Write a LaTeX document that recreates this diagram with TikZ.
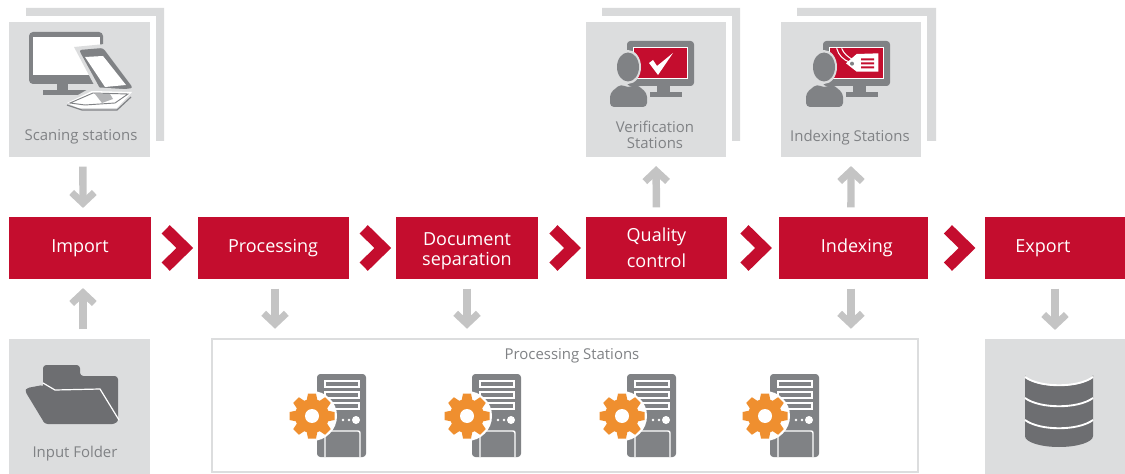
\documentclass[tikz,border=0pt]{standalone}
\usepackage{fontspec}
\setmainfont{Open Sans}
\usetikzlibrary{arrows.meta,calc}
\definecolor{kred}{HTML}{C40D2E}
\definecolor{kbox}{HTML}{DCDDDE}
\definecolor{kback}{HTML}{D9DADB}
\definecolor{karrow}{HTML}{C4C4C4}
\definecolor{kicon}{HTML}{808285}
\definecolor{kdark}{HTML}{6D6E71}
\definecolor{ktext}{HTML}{808285}
\definecolor{korange}{HTML}{EF8F2F}
\tikzset{
  wh/.style 2 args={minimum width=#1*0.75pt,minimum height=#2*0.75pt},
  redbox/.style={fill=kred,inner sep=0pt,text=white,align=center,font=\fontsize{13.5pt}{15.5pt}\selectfont},
  graybox/.style={fill=kbox,inner sep=0pt},
  framebox/.style={draw=kbox,line width=2.2pt,fill=white,inner sep=0pt},
  caplabel/.style={text=ktext,inner sep=0pt,align=center,font=\fontsize{11.2pt}{12pt}\selectfont},
  garrow/.style={draw=karrow,line width=5.6pt,shorten >=6.6pt,shorten <=7pt,
     -{Straight Barb[length=8pt,width=17pt,line width=5.2pt]}},
  chevron/.style={draw=kred,line width=8.8pt,miter limit=10},
}
% chevron centred between two nodes
\newcommand{\kchev}[2]{\path ($(#1.east)!0.5!(#2.west)$) coordinate (cc);
  \draw[chevron] ([shift={(-6.4pt,-14pt)}]cc) -- ([shift={(7.9pt,0pt)}]cc) -- ([shift={(-6.4pt,14pt)}]cc);}
\newcommand{\kback}[3]{\fill[kback] (#1,8) -- (#2,8) -- (#2,141) -- (#3,141) -- (#3,16) -- (#1,16) -- cycle;}
\newcommand{\kserver}[2]{\begin{scope}[shift={(#1,#2)}]
  \fill[kicon,rounded corners=2.5pt] (5,-42) rectangle (54,41);
  \foreach \yy in {-35,-24,-13}{\draw[white,line width=0.9pt] (13,\yy) rectangle (47,\yy+6);}
  \fill[white] (31,4) circle[radius=1.4] (37,4) circle[radius=1.4] (44,4) circle[radius=4];
  \draw[white,line width=1.1pt,rounded corners=1.5pt] (13,41) -- (13,15) -- (48,15) -- (48,41);
  \fill[white] (0,0) circle[radius=25];
  \foreach \a in {0,45,...,315}{\fill[korange,rotate=\a] (-5.5,-15) -- (-4,-22.5) -- (4,-22.5) -- (5.5,-15) -- cycle;}
  \fill[korange] (0,0) circle[radius=17];
  \fill[white] (0,0) circle[radius=7];
\end{scope}}
\newcommand{\kperson}{
  \fill[kbox] (18,0) ellipse[x radius=13,y radius=17];
  \fill[kbox] (-2,42) -- (-2,20) -- (40,20) -- (40,42) -- cycle;
  \fill[kicon] (18,0) ellipse[x radius=11,y radius=14.5];
  \fill[kicon,rounded corners=3pt] (0,40) -- (0,26) -- (11,17) -- (18,21) -- (26,17) -- (37,26) -- (37,40) -- cycle;
}
\newcommand{\kmonitor}{
  \fill[kicon,rounded corners=2.5pt] (627,41) rectangle (694,86);
  \fill[kicon] (657,86) rectangle (670,92);
  \fill[kicon] (650,92) rectangle (682,97);
  \fill[white] (633,47) rectangle (688,79);
  \fill[kred] (634,48) rectangle (687,78);
}
\begin{document}
\begin{tikzpicture}[x=0.75pt,y=-0.75pt]
\useasboundingbox (0,0) rectangle (1125,474);

% back sheets
\kback{26}{164}{156}
\kback{602}{740}{732}
\kback{797}{936}{927}

% stations
\node[graybox,wh={141}{135}] (scan) at (79.5,89.5) {};
\node[graybox,wh={140}{135}] (verif) at (656,89.5) {};
\node[graybox,wh={140}{135}] (ixst) at (851,89.5) {};
\node[graybox,wh={141}{135}] (input) at (79.5,406.5) {};
\node[graybox,wh={140}{135}] (db) at (1055,406.5) {};
\node[framebox,wh={706}{133}] (pst) at (565,405.5) {};

% process row
\node[redbox,wh={142}{62}] (import) at (80,248) {Import};
\node[redbox,wh={151}{62}] (proc) at (273,248) {Processing};
\node[redbox,wh={142}{62}] (docsep) at (467,248) {\rule{0pt}{14.5pt}Document\\[-1pt]separation};
\node[redbox,wh={141}{62}] (qc) at (656.5,248) {Quality\\[4pt]control};
\node[redbox,wh={149}{62}] (index) at (853.5,248) {\hspace{5pt}Indexing};
\node[redbox,wh={140}{62}] (export) at (1055,248) {Export\hspace{18pt}};

% labels
\node[caplabel] (l1) at (81,136.5) {Scaning stations};
\node[caplabel] (l2) at (655,134.5) {Verification\\Stations};
\node[caplabel] (l3) at (850,137.5) {Indexing Stations};
\node[caplabel] (l4) at (75,453.5) {Input Folder};
\node[caplabel] (l5) at (572,355.5) {Processing Stations};

% chevrons
\kchev{import}{proc}
\kchev{proc}{docsep}
\kchev{docsep}{qc}
\kchev{qc}{index}
\kchev{index}{export}

% grey arrows
\draw[garrow] ([xshift=2.6pt]scan.south) -- ([xshift=2.25pt]import.north);
\draw[garrow] ([xshift=2.25pt]import.south |- input.north) -- ([xshift=2.25pt]import.south);
\draw[garrow] ([xshift=1.5pt]proc.south) -- ([xshift=1.5pt]proc.south |- pst.north);
\draw[garrow] (docsep.south) -- (docsep.south |- pst.north);
\draw[garrow] ([xshift=-1.9pt]index.south) -- ([xshift=-1.9pt]index.south |- pst.north);
\draw[garrow] (export.south) -- (db.north);
\draw[garrow] (qc.north) -- (verif.south);
\draw[garrow] ([xshift=-1.9pt]index.north) -- (ixst.south);

% scanner icon
\fill[kicon,rounded corners=3pt] (29,32) rectangle (103,84);
\fill[white] (33,37) rectangle (100,75);
\fill[kicon] (57,84) rectangle (68,91);
\fill[kicon] (43,90) rectangle (90,95);
\fill[kbox] (74,47) -- (105,44) -- (138,90) -- (100,96) -- cycle;
\fill[kicon,rounded corners=2pt] (79,50) -- (103,48) -- (133,88) -- (102,92) -- cycle;
\fill[white] (85,57) -- (103,56) -- (126,85) -- (105,87) -- cycle;
\fill[kbox] (64,103) -- (92,87) -- (138,90) -- (120,112) -- (78,112) -- cycle;
\fill[white] (67,103) -- (92,91) -- (132,92) -- (117,108) -- (78,108) -- cycle;
\draw[kicon,line width=0.7pt] (70,103) -- (93,93) -- (128,94) -- (115,103) -- (85,105) -- cycle;
\fill[kicon!60] (95,94) -- (110,94) -- (113,99) -- (102,103) -- cycle;
\draw[kicon,line width=0.9pt] (67,105) -- (82,110) -- (117,110) -- (131,97);

% verification icon
\kmonitor
\fill[white] (649,63) -- (653,60) -- (657,66) -- (673,53) -- (658,75) -- cycle;
\begin{scope}[shift={(610,67)}]\kperson\end{scope}

% indexing icon
\begin{scope}[shift={(196,0)}]
\kmonitor
\end{scope}
\begin{scope}[shift={(800,30)},x=0.25pt,y=-0.25pt]
\draw[white,line width=0.8pt] (110,55) .. controls (115,75) and (130,90) .. (150,97);
\draw[white,line width=0.8pt] (125,55) .. controls (130,70) and (145,82) .. (160,90);
\fill[white] (138,100) -- (170,72) -- (235,70) -- (235,125) -- (170,125) -- cycle;
\fill[kicon] (156,101) circle[radius=6];
\fill[kred] (183,85) rectangle (222,91) (183,97) rectangle (222,103) (183,109) rectangle (222,115);
\end{scope}
\begin{scope}[shift={(806,67)}]\kperson\end{scope}

% folder icon
\fill[kdark,rounded corners=2.5pt] (43,423) -- (43,365) -- (80,365) -- (80,376) -- (118,376) -- (118,423) -- cycle;
\fill[kdark,rounded corners=2pt] (25,391) -- (27,388) -- (43,385) -- (55,392) -- (100,391) -- (118,420) -- (115,424) -- (45,424) -- cycle;
\draw[white,line width=0.9pt] (43,383) -- (55,390) -- (100,389) -- (119,420);

% database icon
\fill[kdark] (1025,375) -- (1025,436) arc[start angle=180,end angle=360,x radius=34,y radius=-11] -- (1093,375) arc[start angle=0,end angle=180,x radius=34,y radius=11] -- cycle;
\draw[white,line width=1.4pt] (1025,377) .. controls (1040,388) and (1078,388) .. (1093,377);
\draw[white,line width=1.4pt] (1025,398) .. controls (1040,409) and (1078,409) .. (1093,398);
\draw[white,line width=1.4pt] (1025,420) .. controls (1040,431) and (1078,431) .. (1093,420);

% servers
\kserver{312}{416}
\kserver{467}{416}
\kserver{622}{416}
\kserver{765}{416}
\end{tikzpicture}
\end{document}
